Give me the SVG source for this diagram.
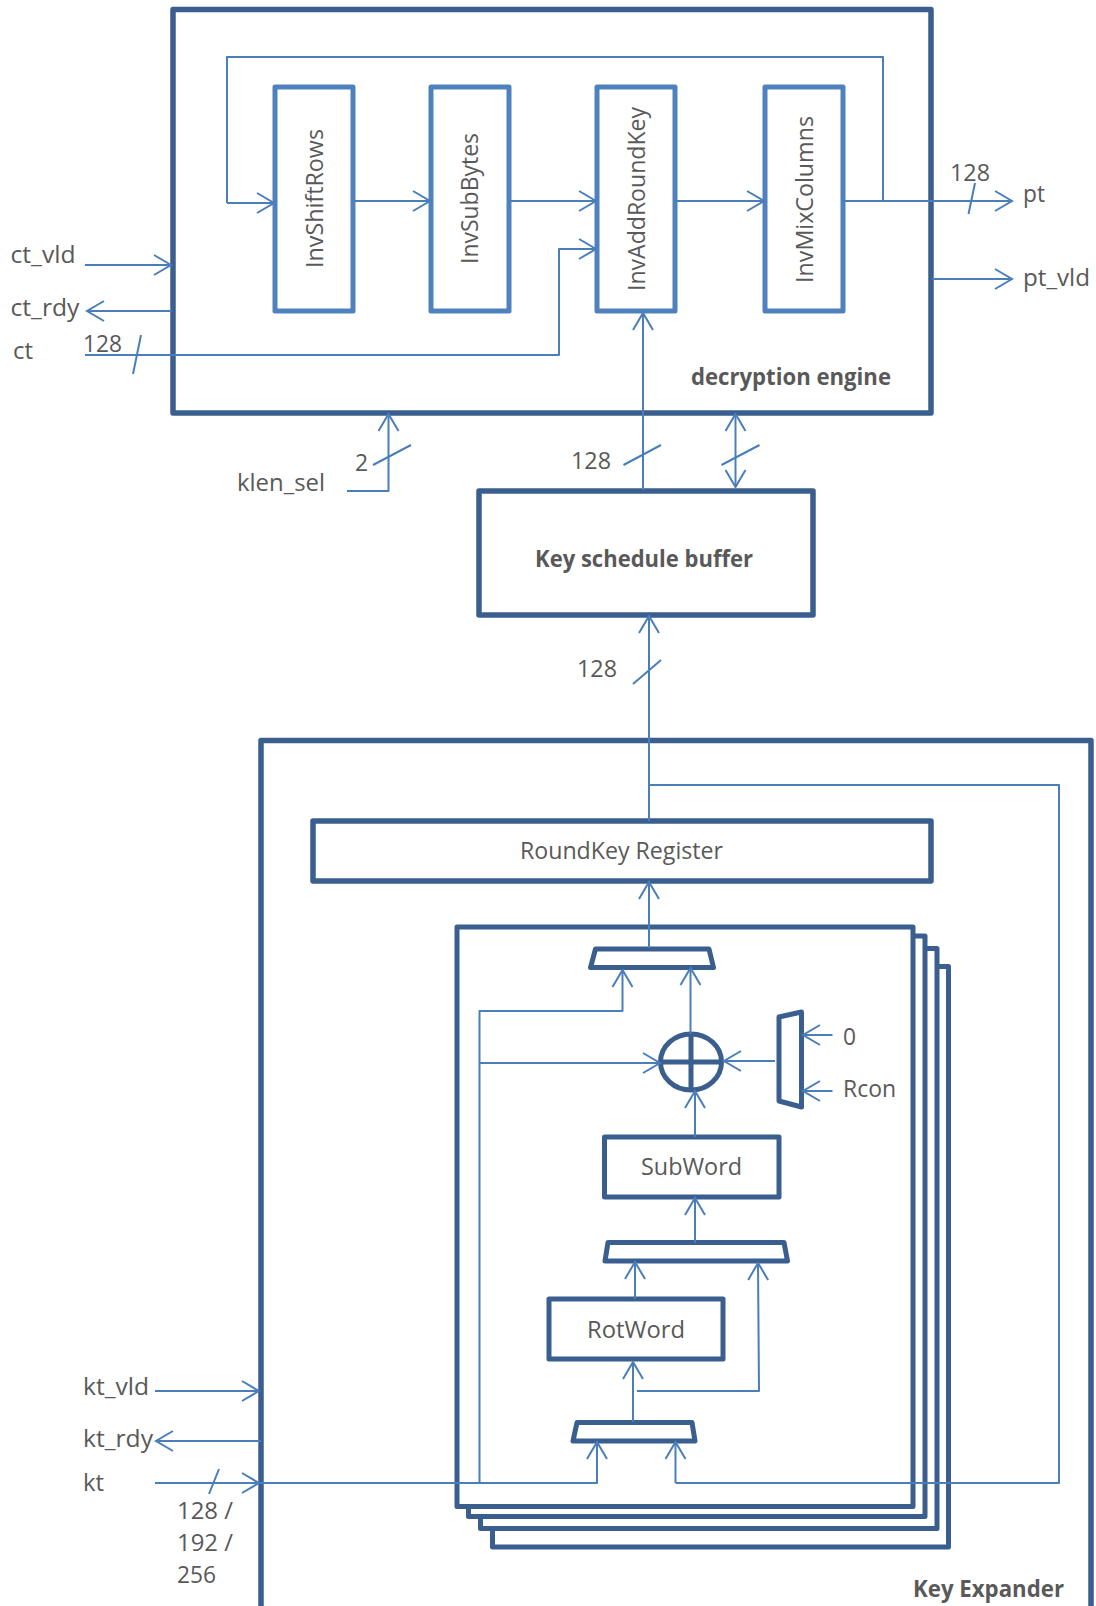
<svg xmlns="http://www.w3.org/2000/svg" width="1096" height="1606" viewBox="0 0 1096 1606">
<style>
.box{fill:#fff;stroke:#3a5f8f;stroke-width:5.5;stroke-linejoin:round}
.nofill{fill:none;stroke:#3a5f8f;stroke-width:5.5;stroke-linejoin:round}
.sm{fill:#fff;stroke:#3a5f8f;stroke-width:5;stroke-linejoin:round}
.in{fill:#fff;stroke:#4f81bd;stroke-width:5;stroke-linejoin:round}
.c{fill:none;stroke:#4a7ebb;stroke-width:2;stroke-linejoin:round}
.a{marker-end:url(#ah)}
text{font-family:"Open Sans","DejaVu Sans",sans-serif;font-size:23px;fill:#595959}
.b{font-weight:700;font-size:22.5px}
</style>
<defs>
<marker id="ah" markerUnits="userSpaceOnUse" markerWidth="24" markerHeight="26" viewBox="0 0 24 26" refX="20" refY="13" orient="auto-start-reverse">
<path d="M3 3L20 13L3 23" fill="none" stroke="#4a7ebb" stroke-width="2"/>
</marker>
</defs>

<g id="key-expander">
<path class="nofill" d="M261 1620V740.5H1091V1620"/>
<text class="b" x="913" y="1597" textLength="151" lengthAdjust="spacingAndGlyphs">Key Expander</text>
</g>
<g id="decryption-engine">
<rect class="box" x="173" y="9.5" width="758" height="403.5"/>
<text class="b" x="691" y="385" textLength="200" lengthAdjust="spacingAndGlyphs">decryption engine</text>
</g>
<g id="inv-shift-rows">
<rect class="in" x="275" y="87" width="78" height="224"/>
<text transform="translate(322.5 268) rotate(-90)" textLength="139" lengthAdjust="spacingAndGlyphs">InvShiftRows</text>
</g>
<g id="inv-sub-bytes">
<rect class="in" x="431" y="87" width="78" height="224"/>
<text transform="translate(478 264) rotate(-90)" textLength="131" lengthAdjust="spacingAndGlyphs">InvSubBytes</text>
</g>
<g id="inv-add-round-key">
<rect class="in" x="597" y="87" width="78" height="224"/>
<text transform="translate(645 291) rotate(-90)" textLength="184" lengthAdjust="spacingAndGlyphs">InvAddRoundKey</text>
</g>
<g id="inv-mix-columns">
<rect class="in" x="765" y="87" width="78" height="224"/>
<text transform="translate(812.5 283) rotate(-90)" textLength="167" lengthAdjust="spacingAndGlyphs">InvMixColumns</text>
</g>
<g id="key-schedule-buffer">
<rect class="box" x="479" y="491" width="334" height="124"/>
<text class="b" x="535" y="567" textLength="218" lengthAdjust="spacingAndGlyphs">Key schedule buffer</text>
</g>
<g id="round-key-register">
<rect class="box" x="313" y="821" width="618" height="60"/>
<text x="520" y="859" textLength="203" lengthAdjust="spacingAndGlyphs">RoundKey Register</text>
</g>
<g id="round-stack">
<rect class="sm" x="492.5" y="966.5" width="456" height="580.5"/>
<rect class="sm" x="480.5" y="948.5" width="456.5" height="580"/>
<rect class="sm" x="468.5" y="936" width="456.5" height="580.5"/>
<rect class="sm" x="457" y="927" width="456" height="579.5"/>
</g>
<g id="mux-top"><polygon class="sm" points="595.5,949 709,949 713.5,967.5 590.5,967.5"/></g>
<g id="xor">
<ellipse class="sm" cx="691" cy="1062" rx="30.5" ry="28"/>
<path class="sm" d="M660 1062H722M691 1034V1090"/>
</g>
<g id="mux-rcon"><polygon class="sm" points="779,1017 801.5,1012 801.5,1107 779,1101"/></g>
<g id="subword">
<rect class="sm" x="604.5" y="1137" width="174.5" height="60"/>
<text x="641" y="1175" textLength="101" lengthAdjust="spacingAndGlyphs">SubWord</text>
</g>
<g id="mux-mid"><polygon class="sm" points="608,1242.5 784,1242.5 787.5,1261 605,1261"/></g>
<g id="rotword">
<rect class="sm" x="549" y="1299" width="174" height="60"/>
<text x="587" y="1337.5" textLength="98" lengthAdjust="spacingAndGlyphs">RotWord</text>
</g>
<g id="mux-bottom"><polygon class="sm" points="577,1422.5 692,1422.5 695,1441 573,1441"/></g>

<g id="connectors">
<path class="c a" d="M227 203V57H883V201M227 203H274"/>
<path class="c a" d="M353 201H430"/>
<path class="c a" d="M509 201H596"/>
<path class="c a" d="M675 201H764"/>
<path class="c a" d="M843 201H1012"/>
<path class="c a" d="M932 279H1012"/>
<path class="c a" d="M85 265H171"/>
<path class="c a" d="M172 311H87"/>
<path class="c a" d="M85 355H559V249H596"/>
<path class="c a" d="M347 491H388.5V414"/>
<path class="c a" d="M643 490V313"/>
<path class="c a" style="marker-start:url(#ah)" d="M735.5 414V487"/>
<path class="c a" d="M649 821V616"/>
<path class="c" d="M649 785H1059V1483H675.5"/>
<path class="c a" d="M675.5 1483V1442"/>
<path class="c a" d="M649 948V882"/>
<path class="c a" d="M479.5 1483V1011H622.5V970"/>
<path class="c a" d="M690.5 1034V968"/>
<path class="c a" d="M479.5 1063H660"/>
<path class="c a" d="M775 1061H724"/>
<path class="c a" d="M832.5 1035H803"/>
<path class="c a" d="M832.5 1091H803"/>
<path class="c a" d="M695 1137V1091"/>
<path class="c a" d="M695 1243V1198"/>
<path class="c a" d="M635 1299V1262"/>
<path class="c a" d="M633 1422V1362"/>
<path class="c a" d="M637 1391H759L758 1263"/>
<path class="c a" d="M155 1483H259"/>
<path class="c a" d="M259 1483H597V1442"/>
<path class="c a" d="M155 1391H259"/>
<path class="c a" d="M261 1441H156"/>
<path class="c" d="M141 335L133 374M373 465L411 445M975 183L968.5 214M623.5 465L661 445M721.5 465L759.5 445M633 684L661 660M219 1469L209 1494"/>
</g>

<g id="labels">
<text x="10.5" y="262.5" textLength="65" lengthAdjust="spacingAndGlyphs">ct_vld</text>
<text x="10.5" y="315.5" textLength="69" lengthAdjust="spacingAndGlyphs">ct_rdy</text>
<text x="13" y="359" textLength="20" lengthAdjust="spacingAndGlyphs">ct</text>
<text x="83" y="351.5" textLength="39" lengthAdjust="spacingAndGlyphs">128</text>
<text x="237" y="491" textLength="88" lengthAdjust="spacingAndGlyphs">klen_sel</text>
<text x="355" y="471">2</text>
<text x="950" y="181" textLength="40" lengthAdjust="spacingAndGlyphs">128</text>
<text x="1023" y="201.5" textLength="22" lengthAdjust="spacingAndGlyphs">pt</text>
<text x="1023" y="285.5" textLength="67" lengthAdjust="spacingAndGlyphs">pt_vld</text>
<text x="571" y="469" textLength="40" lengthAdjust="spacingAndGlyphs">128</text>
<text x="577" y="677" textLength="40" lengthAdjust="spacingAndGlyphs">128</text>
<text x="843" y="1045" textLength="13" lengthAdjust="spacingAndGlyphs">0</text>
<text x="843" y="1097" textLength="53" lengthAdjust="spacingAndGlyphs">Rcon</text>
<text x="83" y="1395" textLength="66" lengthAdjust="spacingAndGlyphs">kt_vld</text>
<text x="83" y="1447" textLength="70" lengthAdjust="spacingAndGlyphs">kt_rdy</text>
<text x="83" y="1491" textLength="21" lengthAdjust="spacingAndGlyphs">kt</text>
<text x="177" y="1519" textLength="56" lengthAdjust="spacingAndGlyphs">128 /</text>
<text x="177" y="1550.5" textLength="56" lengthAdjust="spacingAndGlyphs">192 /</text>
<text x="177" y="1583" textLength="39" lengthAdjust="spacingAndGlyphs">256</text>
</g>
</svg>
